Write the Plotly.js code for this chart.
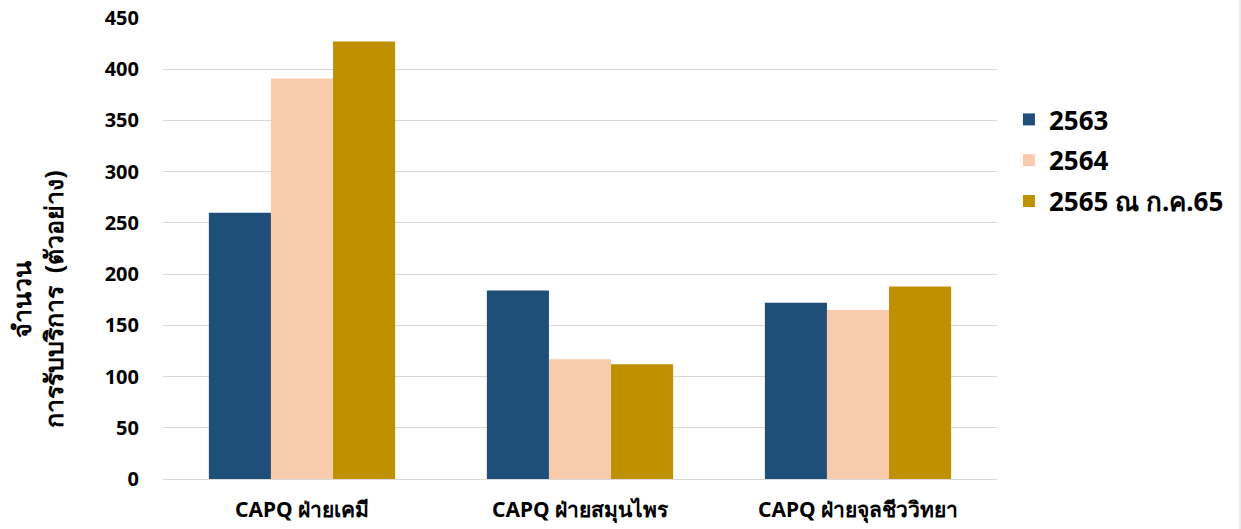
<!DOCTYPE html>
<html>
<head>
<meta charset="utf-8">
<script src="https://cdn.plot.ly/plotly-3.0.1.min.js"></script>
<style>html,body{margin:0;padding:0;background:#fff;}#chart{width:1241px;height:529px;}</style>
</head>
<body>
<div id="chart"></div>
<script>
var categories = ["CAPQ ฝ่ายเคมี", "CAPQ ฝ่ายสมุนไพร", "CAPQ ฝ่ายจุลชีววิทยา"];
var seriesNames = ["2563", "2564", "2565 ณ ก.ค.65"];
var values2563 = [260, 184, 172];
var values2564 = [391, 117, 165];
var values2565 = [427, 112, 188];
var colors = ["#1F4E79", "#F8CBAD", "#BF9000"];
var yTicks = [0, 50, 100, 150, 200, 250, 300, 350, 400, 450];
var yTitleLines = ["จำนวน", "การรับบริการ\u00a0\u00a0(ตัวอย่าง)"];

var font = "'Noto Sans', Tahoma, sans-serif";
var allValues = [values2563, values2564, values2565];
var traces = allValues.map(function (v, i) {
  return {
    type: "bar",
    x: categories,
    y: v,
    name: seriesNames[i],
    legendgroup: "g" + i,
    marker: {color: colors[i]},
    hoverinfo: "x+y+name"
  };
});

var layout = {
  width: 1241,
  height: 529,
  margin: {l: 163, r: 244, t: 18, b: 50},
  paper_bgcolor: "#ffffff",
  plot_bgcolor: "#ffffff",
  barmode: "group",
  bargap: 0.33,
  bargroupgap: 0,
  font: {family: font, color: "#000000"},
  xaxis: {
    showgrid: false,
    showline: true,
    linecolor: "#d9d9d9",
    linewidth: 1,
    ticks: "",
    ticklabelstandoff: 12,
    tickfont: {size: 21, family: font, weight: "bold", color: "#000"}
  },
  yaxis: {
    range: [0, 450],
    tickvals: yTicks,
    ticktext: yTicks.map(String),
    showgrid: true,
    gridcolor: "#d9d9d9",
    gridwidth: 1,
    zeroline: false,
    showline: false,
    ticks: "",
    ticklabelstandoff: 23,
    tickfont: {size: 20, family: font, weight: "bold", color: "#000"}
  },
  annotations: [{
    text: yTitleLines.join("<br>"),
    xref: "paper", yref: "paper",
    x: -0.151, y: 0.39,
    xanchor: "center", yanchor: "middle",
    align: "center",
    textangle: -90,
    showarrow: false,
    font: {size: 25, family: font, weight: "bold", color: "#000"}
  }],
  legend: {
    xref: "container", yref: "container",
    x: 0.813,
    xanchor: "left",
    y: 0.8185,
    yanchor: "top",
    font: {size: 26, family: font, weight: "bold", color: "#000"},
    tracegroupgap: 4,
    itemwidth: 30,
    bgcolor: "rgba(0,0,0,0)"
  },
  shapes: [{
    type: "line", xref: "paper", yref: "paper",
    x0: 1.2914, x1: 1.2914, y0: -0.1085, y1: 1.039,
    line: {color: "#d9d9d9", width: 1}
  }]
};

Plotly.newPlot("chart", traces, layout, {displayModeBar: false, staticPlot: true});
</script>
</body>
</html>
